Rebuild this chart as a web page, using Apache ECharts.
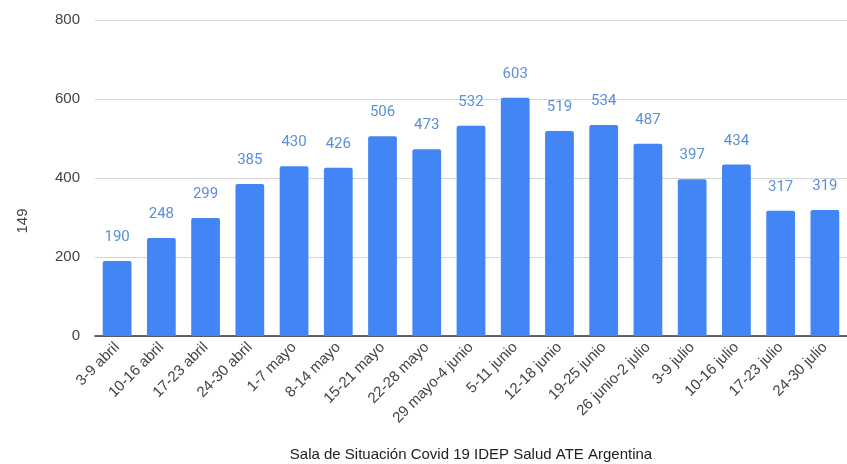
<!DOCTYPE html>
<html>
<head>
<meta charset="utf-8">
<script src="https://cdn.jsdelivr.net/npm/echarts@6/dist/echarts.min.js"></script>
<style>html,body{margin:0;padding:0;background:#fff}#c{width:847px;height:464px}</style>
</head>
<body>
<div id="c"></div>
<script>
const categories = ["3-9 abril","10-16 abril","17-23 abril","24-30 abril","1-7 mayo","8-14 mayo","15-21 mayo","22-28 mayo","29 mayo-4 junio","5-11 junio","12-18 junio","19-25 junio","26 junio-2 julio","3-9 julio","10-16 julio","17-23 julio","24-30 julio"];
const values = [190,248,299,385,430,426,506,473,532,603,519,534,487,397,434,317,319];
const yTicks = [0,200,400,600,800];
const yName = "149";
const xName = "Sala de Situación Covid 19 IDEP Salud ATE Argentina";

const FONT = 'Liberation Sans, Arial, sans-serif';
const chart = echarts.init(document.getElementById('c'));
chart.setOption({
  animation: false,
  grid: {left: 95, right: 0, top: 20, bottom: 128, outerBoundsMode: 'none', containLabel: false},
  xAxis: {
    type: 'category',
    data: categories,
    name: xName,
    nameLocation: 'middle',
    nameGap: 111,
    nameTextStyle: {color: '#222', fontSize: 15, fontFamily: FONT},
    axisLine: {lineStyle: {color: '#333', width: 1.5}},
    axisTick: {show: false},
    axisLabel: {rotate: 45, color: '#444', fontSize: 15, margin: 9, interval: 0, fontFamily: FONT}
  },
  yAxis: {
    type: 'value',
    min: yTicks[0],
    max: yTicks[yTicks.length-1],
    interval: 200,
    name: yName,
    nameLocation: 'middle',
    nameGap: 65,
    nameRotate: 90,
    nameTextStyle: {color: '#444', fontSize: 15, fontFamily: FONT, padding: [0, 86, 0, 0]},
    axisLine: {show: false},
    axisTick: {show: false},
    splitLine: {lineStyle: {color: '#d6d6d6'}},
    axisLabel: {color: '#444', fontSize: 15, margin: 15, fontFamily: FONT}
  },
  series: [{
    type: 'bar',
    data: values,
    barWidth: '65%',
    itemStyle: {color: '#4285F4', borderRadius: [2,2,0,0]},
    label: {show: true, position: 'top', distance: 16, color: '#5b8fd9', fontSize: 15, fontFamily: 'Roboto, Liberation Sans, Arial, sans-serif'}
  }]
});
</script>
</body>
</html>
